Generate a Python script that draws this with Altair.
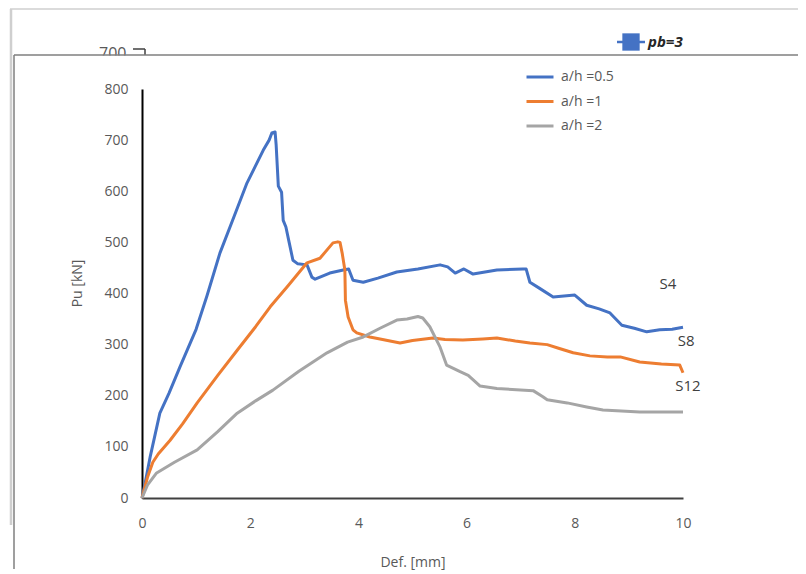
import altair as alt
import pandas as pd

# ---------------- data ----------------
series_names = ["a/h =0.5", "a/h =1", "a/h =2"]
series_colors = ["#4472C4", "#ED7D31", "#A5A5A5"]

blue_d = [0, 0.05, 0.15, 0.33, 0.5, 0.7, 1.0, 1.2, 1.44, 1.7, 1.94, 2.1, 2.24, 2.35,
          2.40, 2.46, 2.48, 2.52, 2.58, 2.61, 2.66, 2.72, 2.79, 2.88, 3.05, 3.14, 3.2,
          3.47, 3.72, 3.82, 3.9, 4.09, 4.36, 4.71, 5.1, 5.51, 5.65, 5.79, 5.95, 6.12,
          6.56, 7.04, 7.1, 7.17, 7.35, 7.6, 8.0, 8.22, 8.45, 8.65, 8.87, 9.1, 9.33,
          9.57, 9.8, 10.0]
blue_p = [0, 25, 80, 166, 205, 256, 330, 395, 479, 550, 616, 650, 680, 700,
          714, 716, 690, 610, 598, 543, 530, 500, 465, 458, 456, 432, 428,
          440, 446, 448, 426, 422, 430, 442, 448, 456, 452, 440, 448, 438,
          446, 448, 448, 422, 410, 393, 397, 377, 370, 362, 338, 332, 325,
          329, 330, 334]

orange_d = [0, 0.1, 0.2, 0.3, 0.52, 0.75, 1.02, 1.4, 1.76, 2.1, 2.37, 2.7, 3.05,
            3.29, 3.53, 3.62, 3.66, 3.70, 3.75, 3.76, 3.81, 3.9, 3.97, 4.21, 4.4,
            4.77, 5.0, 5.38, 5.6, 5.93, 6.3, 6.56, 6.9, 7.17, 7.49, 7.7, 7.97,
            8.28, 8.6, 8.84, 9.2, 9.6, 9.94, 10.0]
orange_p = [0, 40, 70, 86, 113, 145, 186, 240, 289, 335, 374, 415, 460,
            469, 499, 501, 500, 479, 446, 387, 354, 329, 323, 315, 311,
            303, 308, 313, 310, 309, 311, 313, 307, 303, 300, 293, 284,
            278, 276, 276, 266, 262, 260, 245]

gray_d = [0, 0.1, 0.27, 0.6, 1.02, 1.4, 1.76, 2.1, 2.42, 2.9, 3.42, 3.8, 4.09,
          4.4, 4.71, 4.9, 5.1, 5.19, 5.32, 5.51, 5.63, 5.88, 6.03, 6.25, 6.56,
          7.23, 7.41, 7.49, 7.86, 8.22, 8.52, 9.2, 10.0]
gray_p = [0, 25, 49, 70, 94, 130, 166, 190, 211, 248, 284, 305, 315,
          332, 348, 350, 355, 352, 335, 295, 260, 247, 240, 219, 214,
          210, 198, 192, 186, 178, 172, 168, 168]

label_text = ["S4", "S8", "S12"]
label_d = [9.72, 10.06, 10.09]
label_p = [418, 307, 219]

x_ticks = [0, 2, 4, 6, 8, 10]
y_ticks = [0, 100, 200, 300, 400, 500, 600, 700, 800]

# ---------------- tables ----------------
rows = []
for name, ds, ps in zip(series_names, [blue_d, orange_d, gray_d], [blue_p, orange_p, gray_p]):
    for i, (d, p) in enumerate(zip(ds, ps)):
        rows.append({"series": name, "order": i, "d": d, "p": p})
df = pd.DataFrame(rows)
labels_df = pd.DataFrame({"t": label_text, "d": label_d, "p": label_p})

FONT = "Open Sans"
TXT = "#595959"
one = alt.Data(values=[{}])

x_enc = alt.X("d:Q", scale=alt.Scale(domain=[0, 10], nice=False, zero=False),
              axis=alt.Axis(values=x_ticks, title="Def. [mm]", grid=False, ticks=False,
                            domainColor="#404040", domainWidth=2, labelPadding=18,
                            labelFlush=False,
                            labelFontSize=14, labelColor=TXT, labelFont=FONT,
                            titleFontSize=14, titleFontWeight="normal", titleColor=TXT,
                            titleFont=FONT, titlePadding=25))
y_enc = alt.Y("p:Q", scale=alt.Scale(domain=[0, 800], nice=False),
              axis=alt.Axis(values=y_ticks, title="Pu [kN]", grid=False, ticks=False,
                            domainColor="#000000", domainWidth=2, labelPadding=14,
                            labelFlush=False,
                            labelFontSize=14, labelColor=TXT, labelFont=FONT,
                            titleFontSize=14, titleFontWeight="normal", titleColor=TXT,
                            titleFont=FONT, titleX=-65, titleY=194, titleAngle=-90,
                            titleAlign="center", titleBaseline="middle"))

# ---------------- background decoration (screenshot frame) ----------------
outer_top = alt.Chart(one).mark_rule(color="#cfcfcf", strokeWidth=1.5).encode(
    x=alt.value(-132), x2=alt.value(656), y=alt.value(-80))
outer_left = alt.Chart(one).mark_rule(color="#cfcfcf", strokeWidth=2.5).encode(
    x=alt.value(-131), y=alt.value(-80), y2=alt.value(436))
frag_text = alt.Chart(one).mark_text(text="700", font=FONT, fontSize=16, color=TXT,
                                     align="left", baseline="alphabetic").encode(
    x=alt.value(-43), y=alt.value(-30))
frag_tick_h = alt.Chart(one).mark_rule(color="#404040", strokeWidth=1.5).encode(
    x=alt.value(-9), x2=alt.value(3), y=alt.value(-40))
frag_tick_v = alt.Chart(one).mark_rule(color="#404040", strokeWidth=1.5).encode(
    x=alt.value(3), y=alt.value(-40), y2=alt.value(-34))
cover = alt.Chart(one).mark_rect(color="white").encode(
    x=alt.value(-126), x2=alt.value(656), y=alt.value(-33.5), y2=alt.value(-20))
inner_top = alt.Chart(one).mark_rule(color="#7f7f7f", strokeWidth=1.5).encode(
    x=alt.value(-128), x2=alt.value(656), y=alt.value(-34))
inner_left = alt.Chart(one).mark_rule(color="#7f7f7f", strokeWidth=1.5).encode(
    x=alt.value(-128), y=alt.value(-34), y2=alt.value(480))
pb_line = alt.Chart(one).mark_rule(color="#4472C4", strokeWidth=2.5).encode(
    x=alt.value(475), x2=alt.value(503), y=alt.value(-47))
pb_square = alt.Chart(one).mark_square(color="#4472C4", size=300, opacity=1).encode(
    x=alt.value(489), y=alt.value(-47))
pb_text = alt.Chart(one).mark_text(text="pb=3", font=FONT, fontSize=15, fontWeight="bold",
                                   fontStyle="italic", color="#262626", align="left",
                                   baseline="middle").encode(
    x=alt.value(506), y=alt.value(-47))

# ---------------- main chart ----------------
lines = alt.Chart(df).mark_line(strokeWidth=3, strokeJoin="round").encode(
    x=x_enc, y=y_enc,
    color=alt.Color("series:N",
                    scale=alt.Scale(domain=series_names, range=series_colors),
                    legend=alt.Legend(title=None, orient="none", legendX=383, legendY=-27,
                                      symbolType="stroke", symbolSize=729,
                                      symbolStrokeWidth=3, labelFontSize=14,
                                      labelColor=TXT, labelFont=FONT, rowPadding=2.5,
                                      padding=0, labelOffset=6, direction="vertical")),
    order="order:Q",
)

annot = alt.Chart(labels_df).mark_text(font=FONT, fontSize=15, color="#404040").encode(
    x="d:Q", y="p:Q", text="t:N")

chart = alt.layer(
    lines, outer_top, outer_left, frag_text, frag_tick_h, frag_tick_v, cover,
    inner_top, inner_left, pb_line, pb_square, pb_text, annot
).properties(
    width=541, height=409,
    autosize=alt.AutoSizeParams(type="none"),
    padding={"left": 134, "top": 81, "right": 115, "bottom": 72},
).configure(background="white", view=alt.ViewConfig(strokeWidth=0))

chart.save("out.html", embed_options={"renderer": "svg", "actions": False})
